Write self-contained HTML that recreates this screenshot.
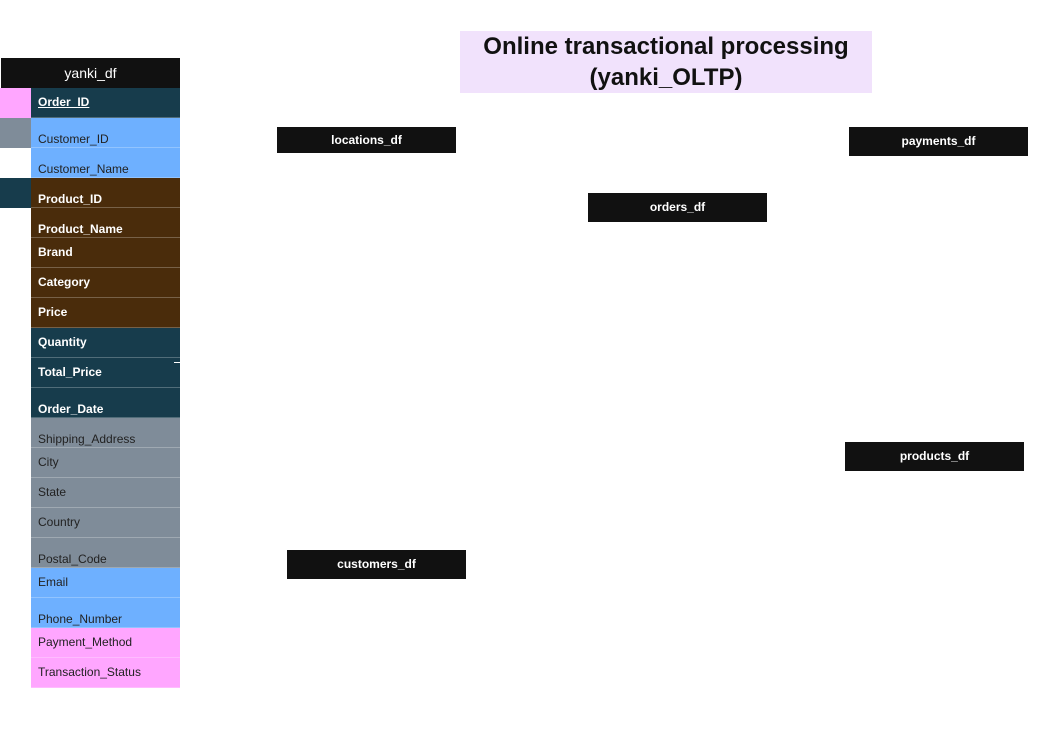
<!DOCTYPE html>
<html><head><style>
body{margin:0;width:1056px;height:747px;background:#fff;position:relative;overflow:hidden;font-family:"Liberation Sans",Arial,sans-serif}
.a{position:absolute;box-sizing:border-box}
.r{position:absolute;box-sizing:border-box;left:31px;width:149px;height:30px;font-size:12px;border-bottom:1px solid rgba(255,255,255,0.25)}
.r span{position:absolute;left:7px}
.t{background:#173c4c;color:#fff;font-weight:bold}
.b{background:#6eb0ff;color:#222}
.w{background:#4a2c0b;color:#fff;font-weight:bold}
.g{background:#7f8c99;color:#222}
.p{background:#ffa6ff;color:#222}
.bx{position:absolute;background:#111;color:#fff;font-weight:bold;font-size:12px;text-align:center;width:179px}
</style></head><body>
<div class="a" style="left:460px;top:31px;width:412px;height:62px;background:#f1e2fc;color:#111;font-weight:bold;font-size:24px;text-align:center;line-height:31px;padding-top:0px">Online transactional processing<br>(yanki_OLTP)</div>
<div class="a" style="left:1px;top:58px;width:179px;height:30px;background:#111;color:#fff;font-size:14px;text-align:center;line-height:30px">yanki_df</div>
<div class="a" style="left:0;top:88px;width:31px;height:30px;background:#ffa6ff"></div>
<div class="a" style="left:0;top:118px;width:31px;height:30px;background:#7f8c99"></div>
<div class="a" style="left:0;top:178px;width:31px;height:30px;background:#173c4c"></div>
<div class="r t" style="top:88px"><span style="top:7px;text-decoration:underline">Order_ID</span></div>
<div class="r b" style="top:118px"><span style="top:14px">Customer_ID</span></div>
<div class="r b" style="top:148px"><span style="top:14px">Customer_Name</span></div>
<div class="r w" style="top:178px"><span style="top:14px">Product_ID</span></div>
<div class="r w" style="top:208px"><span style="top:14px">Product_Name</span></div>
<div class="r w" style="top:238px"><span style="top:7px">Brand</span></div>
<div class="r w" style="top:268px"><span style="top:7px">Category</span></div>
<div class="r w" style="top:298px"><span style="top:7px">Price</span></div>
<div class="r t" style="top:328px"><span style="top:7px">Quantity</span></div>
<div class="r t" style="top:358px"><span style="top:7px">Total_Price</span></div>
<div class="r t" style="top:388px"><span style="top:14px">Order_Date</span></div>
<div class="r g" style="top:418px"><span style="top:14px">Shipping_Address</span></div>
<div class="r g" style="top:448px"><span style="top:7px">City</span></div>
<div class="r g" style="top:478px"><span style="top:7px">State</span></div>
<div class="r g" style="top:508px"><span style="top:7px">Country</span></div>
<div class="r g" style="top:538px"><span style="top:14px">Postal_Code</span></div>
<div class="r b" style="top:568px"><span style="top:7px">Email</span></div>
<div class="r b" style="top:598px"><span style="top:14px">Phone_Number</span></div>
<div class="r p" style="top:628px"><span style="top:7px">Payment_Method</span></div>
<div class="r p" style="top:658px"><span style="top:7px">Transaction_Status</span></div>
<div class="a" style="left:174px;top:362px;width:6px;height:1px;background:#fff"></div>
<div class="bx" style="left:277px;top:127px;height:26px;line-height:26px">locations_df</div>
<div class="bx" style="left:849px;top:127px;height:29px;line-height:29px">payments_df</div>
<div class="bx" style="left:588px;top:193px;height:29px;line-height:28px">orders_df</div>
<div class="bx" style="left:845px;top:442px;height:29px;line-height:28px">products_df</div>
<div class="bx" style="left:287px;top:550px;height:29px;line-height:28px">customers_df</div>
</body></html>
